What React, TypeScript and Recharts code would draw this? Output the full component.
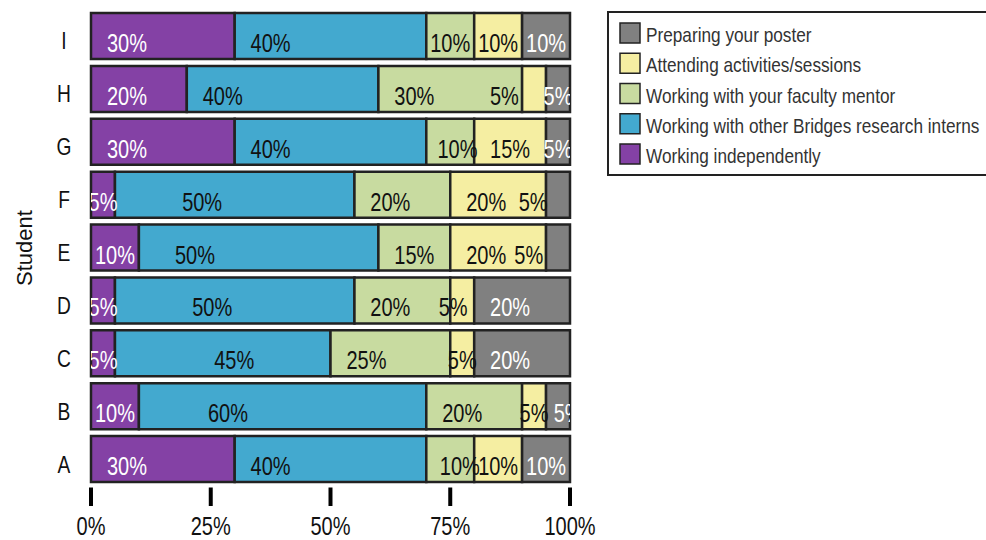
import { BarChart, Bar, XAxis, YAxis, Legend, LabelList } from "recharts"

const STUDENTS = ["A", "B", "C", "D", "E", "F", "G", "H", "I"]
const INDEPENDENT = [30, 10, 5, 5, 10, 5, 30, 20, 30]
const OTHER_INTERNS = [40, 60, 45, 50, 50, 50, 40, 40, 40]
const FACULTY_MENTOR = [10, 20, 25, 20, 15, 20, 10, 30, 10]
const ACTIVITIES = [10, 5, 5, 5, 20, 20, 15, 5, 10]
const POSTER = [10, 5, 20, 20, 5, 5, 5, 5, 10]
const X_TICKS = [0, 25, 50, 75, 100]

const SERIES = [
    { key: "independent", name: "Working independently", color: "#8441a5", values: INDEPENDENT },
    { key: "interns", name: "Working with other Bridges research interns", color: "#43a9cf", values: OTHER_INTERNS },
    { key: "mentor", name: "Working with your faculty mentor", color: "#c8dba0", values: FACULTY_MENTOR },
    { key: "activities", name: "Attending activities/sessions", color: "#f5eea2", values: ACTIVITIES },
    { key: "poster", name: "Preparing your poster", color: "#808080", values: POSTER },
]

// labels sit near the left of each segment; a few are shifted (in % units)
const LABEL_NUDGE: Record<string, number> = {
    "H:activities": -6.2,
    "G:mentor": 1.5,
    "F:interns": 10.7,
    "F:poster": -5.2,
    "E:interns": 4.2,
    "E:poster": -6.1,
    "D:interns": 12.8,
    "D:activities": -1.9,
    "C:interns": 17.4,
    "B:interns": 11.1,
    "B:poster": 2.1,
    "A:mentor": 2,
}

const FONT = '"Liberation Sans", Arial, sans-serif'
const SQUEEZE = 0.8

const data = STUDENTS.map((student, i) => {
    const row: Record<string, string | number> = { student }
    SERIES.forEach((s) => (row[s.key] = s.values[i]))
    return row
})

function segmentLabel(seriesIndex: number) {
    const s = SERIES[seriesIndex]
    return (props: any) => {
        const vb = props.viewBox ?? props
        const { x, y, width, height } = vb
        const index = props.index
        const value = Number(props.value)
        if (!value || index == null) return null
        const student = STUDENTS[index]
        const start = SERIES.slice(0, seriesIndex).reduce((acc, o) => acc + o.values[index], 0)
        const pxPerPct = width / value
        const plotLeft = x - start * pxPerPct
        const nudge = LABEL_NUDGE[`${student}:${s.key}`] ?? 0
        const cx = x + (Math.min(value / 2, 7.5) + nudge) * pxPerPct
        const dark = s.key === "independent" || s.key === "poster"
        const inside = cx >= x && cx <= x + width
        const fill = dark && inside ? "#ffffff" : "#111111"
        const clipId = `lbl-${s.key}-${index}`
        return (
            <g>
                <defs>
                    <clipPath id={clipId}>
                        <rect x={plotLeft} y={y - 4} width={100 * pxPerPct} height={height + 8} />
                    </clipPath>
                </defs>
                <g clipPath={`url(#${clipId})`}>
                    <text
                        transform={`translate(${cx},${y + height / 2 + 16}) scale(${SQUEEZE},1)`}
                        textAnchor="middle"
                        fontSize={25}
                        fontFamily={FONT}
                        fill={fill}
                    >
                        {value}%
                    </text>
                </g>
            </g>
        )
    }
}

function StudentTick({ x, y, payload }: any) {
    return (
        <text
            transform={`translate(${x - 27},${y + 13}) scale(${SQUEEZE},1)`}
            textAnchor="middle"
            fontSize={24}
            fontFamily={FONT}
            fill="#111"
        >
            {payload.value}
        </text>
    )
}

function PercentTick({ x, y, payload }: any) {
    return (
        <g>
            <line x1={x} x2={x} y1={y + 1.5} y2={y + 20} stroke="#000" strokeWidth={4} />
            <text
                transform={`translate(${x},${y + 48.5}) scale(${SQUEEZE},1)`}
                textAnchor="middle"
                fontSize={25}
                fontFamily={FONT}
                fill="#111"
            >
                {payload.value}%
            </text>
        </g>
    )
}

function LegendBox() {
    const items = [...SERIES].reverse()
    return (
        <svg width={380} height={170} style={{ display: "block" }}>
            <rect x={2} y={1} width={420} height={163} fill="#fff" stroke="#222" strokeWidth={2} />
            {items.map((item, i) => (
                <g key={item.key}>
                    <rect x={14} y={12 + i * 30.25} width={20} height={20} fill={item.color} stroke="#222" strokeWidth={1.5} />
                    <text
                        transform={`translate(40,${31 + i * 30.25}) scale(0.82,1)`}
                        fontSize={21}
                        fontFamily={FONT}
                        fill="#333"
                    >
                        {item.name}
                    </text>
                </g>
            ))}
        </svg>
    )
}

export default function App() {
    return (
        <div style={{ position: "absolute", left: 0, top: 0, width: 986, height: 540, background: "#fff", overflow: "hidden" }}>
            <BarChart
                width={986}
                height={540}
                data={data}
                layout="vertical"
                margin={{ top: 10, right: 36, bottom: 0, left: 0 }}
                barSize={46}
                style={{ fontFamily: FONT }}
            >
                <XAxis
                    type="number"
                    domain={[0, 100]}
                    ticks={X_TICKS}
                    axisLine={false}
                    tickLine={false}
                    tickSize={0}
                    tickMargin={0}
                    height={54}
                    tick={<PercentTick />}
                    interval={0}
                />
                <YAxis
                    type="category"
                    dataKey="student"
                    reversed
                    width={91}
                    axisLine={false}
                    tickLine={false}
                    tickSize={0}
                    tickMargin={0}
                    tick={<StudentTick />}
                    interval={0}
                />
                <Legend
                    layout="vertical"
                    align="right"
                    verticalAlign="top"
                    wrapperStyle={{ left: 606, top: 11, width: 380, height: 170 }}
                    content={<LegendBox />}
                />
                {SERIES.map((s, i) => (
                    <Bar
                        key={s.key}
                        dataKey={s.key}
                        name={s.name}
                        stackId="time"
                        fill={s.color}
                        stroke="#222"
                        strokeWidth={2.5}
                        isAnimationActive={false}
                    >
                        <LabelList dataKey={s.key} content={segmentLabel(i)} />
                    </Bar>
                ))}
                <text
                    transform={`translate(32,248) rotate(-90)`}
                    textAnchor="middle"
                    fontSize={22}
                    fontFamily={FONT}
                    fill="#111"
                >
                    Student
                </text>
            </BarChart>
        </div>
    )
}
